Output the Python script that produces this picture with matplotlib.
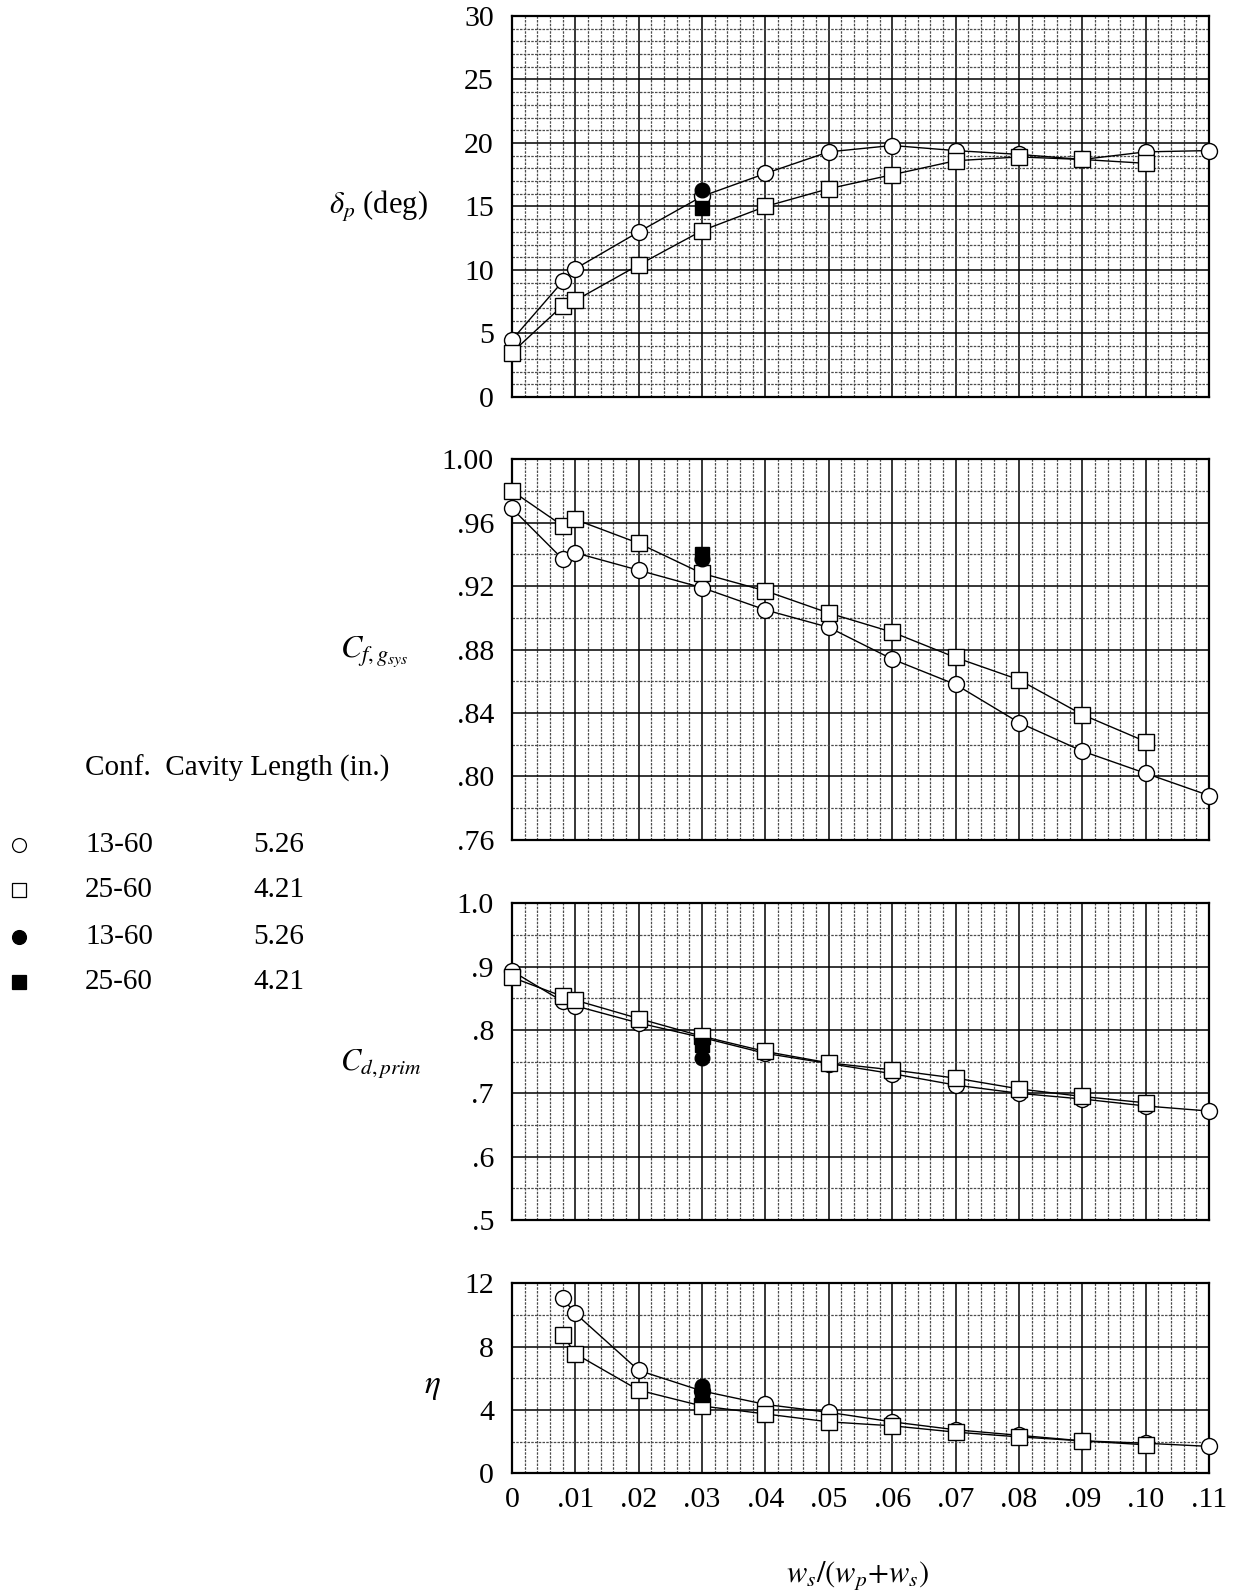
import matplotlib
matplotlib.use("Agg")
import matplotlib.pyplot as plt
from matplotlib.lines import Line2D
from matplotlib.ticker import MultipleLocator, FixedLocator

plt.rcParams['font.family'] = ['Liberation Serif', 'DejaVu Serif']
plt.rcParams['mathtext.fontset'] = 'stix'

# x = w_s/(w_p+w_s)
x_circ = [0, 0.008, 0.01, 0.02, 0.03, 0.04, 0.05, 0.06, 0.07, 0.08, 0.09, 0.10, 0.11]
x_sq = [0, 0.008, 0.01, 0.02, 0.03, 0.04, 0.05, 0.06, 0.07, 0.08, 0.09, 0.10]
x_fill = [0.03]

# delta_p (deg)
dp_circ = [4.5, 9.1, 10.1, 13.0, 15.8, 17.6, 19.3, 19.8, 19.4, 19.1, 18.7, 19.3, 19.4]
dp_sq = [3.5, 7.2, 7.6, 10.4, 13.1, 15.0, 16.4, 17.5, 18.6, 18.9, 18.7, 18.4]
dp_fcirc = [16.3]
dp_fsq = [14.9]

# C_fg,sys
cf_circ = [.969, .937, .941, .930, .919, .905, .894, .874, .858, .834, .816, .802, .788]
cf_sq = [.980, .958, .962, .947, .928, .917, .903, .891, .875, .861, .839, .822]
cf_fcirc = [.937]
cf_fsq = [.940]

# C_d,prim
cd_circ = [.893, .845, .838, .811, .788, .763, .747, .731, .713, .700, .691, .680, .672]
cd_sq = [.883, .853, .847, .818, .790, .766, .748, .737, .724, .707, .695, .685]
cd_fcirc = [.755]
cd_fsq = [.776]

# eta
eta_x_circ = [0.008, 0.01, 0.02, 0.03, 0.04, 0.05, 0.06, 0.07, 0.08, 0.09, 0.10, 0.11]
eta_x_sq = [0.008, 0.01, 0.02, 0.03, 0.04, 0.05, 0.06, 0.07, 0.08, 0.09, 0.10]
eta_circ = [11.05, 10.1, 6.5, 5.2, 4.35, 3.85, 3.25, 2.75, 2.4, 2.05, 1.9, 1.7]
eta_sq = [8.75, 7.55, 5.25, 4.25, 3.75, 3.25, 3.0, 2.6, 2.3, 2.05, 1.8]
eta_fcirc = [5.5]
eta_fsq = [4.95]

x_ticks = [0, 0.01, 0.02, 0.03, 0.04, 0.05, 0.06, 0.07, 0.08, 0.09, 0.10, 0.11]
x_ticklabels = ['0', '.01', '.02', '.03', '.04', '.05', '.06', '.07', '.08', '.09', '.10', '.11']

fig = plt.figure(figsize=(12.38, 15.95), dpi=100)

left, width = 512 / 1238, 697 / 1238
panels = [
    # (bottom, height, ymin, ymax, major, minor, labels)
    (0.7511, 0.2389, 0, 30, 5, 1, ['0', '5', '10', '15', '20', '25', '30']),
    (0.4734, 0.2387, 0.76, 1.00, 0.04, 0.02, ['.76', '.80', '.84', '.88', '.92', '.96', '1.00']),
    (0.2351, 0.1986, 0.5, 1.0, 0.1, 0.05, ['.5', '.6', '.7', '.8', '.9', '1.0']),
    (0.0763, 0.1191, 0, 12, 4, 2, ['0', '4', '8', '12']),
]
series = [
    (x_circ, dp_circ, x_sq, dp_sq, dp_fcirc, dp_fsq),
    (x_circ, cf_circ, x_sq, cf_sq, cf_fcirc, cf_fsq),
    (x_circ, cd_circ, x_sq, cd_sq, cd_fcirc, cd_fsq),
    (eta_x_circ, eta_circ, eta_x_sq, eta_sq, eta_fcirc, eta_fsq),
]

axes = []
for (b, h, y0, y1, maj, mnr, labels), (xc, yc, xs, ys, yfc, yfs) in zip(panels, series):
    ax = fig.add_axes([left, b, width, h])
    ax.set_xlim(0, 0.11)
    ax.set_ylim(y0, y1)
    n = int(round((y1 - y0) / maj))
    ax.yaxis.set_major_locator(FixedLocator([y0 + i * maj for i in range(n + 1)]))
    ax.set_yticklabels(labels)
    ax.yaxis.set_minor_locator(MultipleLocator(mnr))
    ax.xaxis.set_major_locator(FixedLocator(x_ticks))
    ax.xaxis.set_minor_locator(MultipleLocator(0.002))
    ax.grid(True, which='minor', color='0.3', linestyle=(0, (2, 1)), linewidth=0.9)
    ax.grid(True, which='major', color='black', linestyle='-', linewidth=1.1)
    ax.set_axisbelow(True)
    ax.tick_params(which='both', length=0, labelsize=21.5)
    ax.tick_params(axis='y', pad=13)
    ax.tick_params(axis='x', pad=10)
    for s in ax.spines.values():
        s.set_linewidth(1.6)
    ax.plot(xc, yc, '-', color='black', lw=1, marker='o', ms=11.5, mfc='white', mec='black', mew=1, zorder=3)
    ax.plot(xs, ys, '-', color='black', lw=1, marker='s', ms=11.5, mfc='white', mec='black', mew=1, zorder=3)
    ax.plot(x_fill, yfs, 's', ms=10.5, color='black', zorder=4)
    ax.plot(x_fill, yfc, 'o', ms=10.5, color='black', zorder=5)
    for ln in ax.lines:
        ln.set_clip_on(False)
    axes.append(ax)

for ax in axes[:-1]:
    ax.set_xticklabels([])
axes[-1].set_xticklabels(x_ticklabels)

# axis labels
fig.text(428 / 1238, 1 - 207 / 1595, r'$\delta_p$ (deg)', fontsize=22, ha='right', va='center')
fig.text(340 / 1238, 1 - 652 / 1595, r'$C_{f,g_{sys}}$', fontsize=23, ha='left', va='center')
fig.text(340 / 1238, 1 - 1063 / 1595, r'$C_{d,prim}$', fontsize=22, ha='left', va='center')
fig.text(432 / 1238, 1 - 1387 / 1595, r'$\eta$', fontsize=24, ha='center', va='center')
fig.text(857 / 1238, 1 - 1575 / 1595, r'$w_s/(w_p{+}w_s)$', fontsize=22, ha='center', va='center')

# legend
fig.text(85 / 1238, 1 - 768 / 1595, 'Conf.  Cavity Length (in.)', fontsize=21, ha='left', va='center')
leg_markers = [('o', 'white'), ('s', 'white'), ('o', 'black'), ('s', 'black')]
leg_conf = ['13-60', '25-60', '13-60', '25-60']
leg_len = ['5.26', '4.21', '5.26', '4.21']
leg_y = [845, 890, 937, 982]
for (m, fc), c, L, yy in zip(leg_markers, leg_conf, leg_len, leg_y):
    yf = 1 - yy / 1595
    fig.add_artist(Line2D([19 / 1238], [yf], transform=fig.transFigure, marker=m, ms=10,
                          mfc=fc, mec='black', mew=0.9, linestyle='none'))
    fig.text(85 / 1238, yf, c, fontsize=21, ha='left', va='center')
    fig.text(253 / 1238, yf, L, fontsize=21, ha='left', va='center')

fig.savefig('out.png', dpi=100)
